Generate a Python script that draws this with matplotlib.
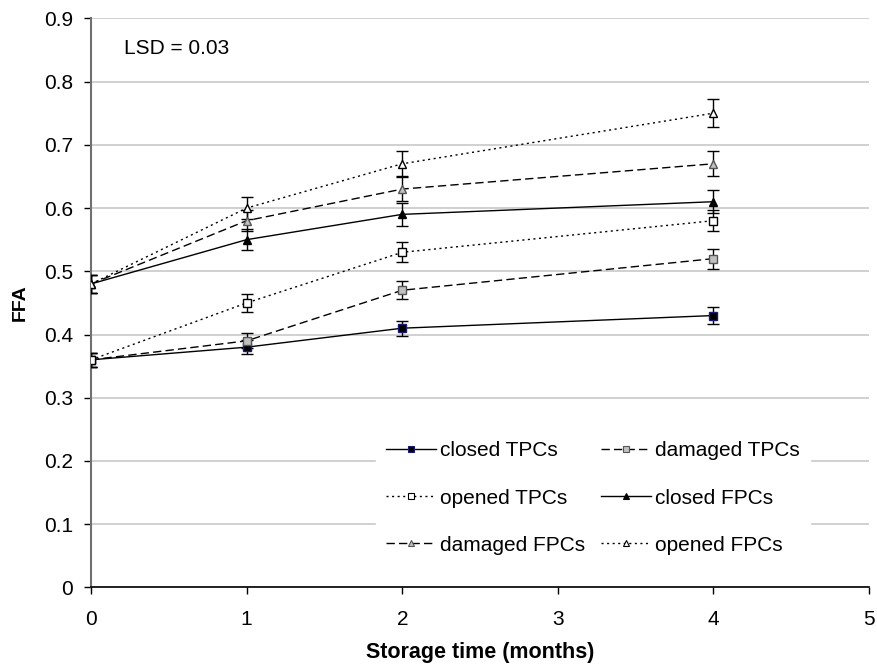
import matplotlib.pyplot as plt
from matplotlib.lines import Line2D

plt.rcParams['font.family'] = ['Liberation Sans', 'DejaVu Sans']

months = [0, 1, 2, 4]

closed_tpc = [0.36, 0.38, 0.41, 0.43]
damaged_tpc = [0.36, 0.39, 0.47, 0.52]
opened_tpc = [0.36, 0.45, 0.53, 0.58]
closed_fpc = [0.48, 0.55, 0.59, 0.61]
damaged_fpc = [0.48, 0.58, 0.63, 0.67]
opened_fpc = [0.48, 0.60, 0.67, 0.75]

# error bars
closed_tpc_err = [0.011, 0.011, 0.012, 0.013]
damaged_tpc_err = [0.011, 0.012, 0.014, 0.016]
opened_tpc_err = [0.011, 0.014, 0.016, 0.017]
closed_fpc_err = [0.014, 0.017, 0.018, 0.018]
damaged_fpc_err = [0.014, 0.017, 0.019, 0.020]
opened_fpc_err = [0.014, 0.018, 0.020, 0.022]

labels = ['closed TPCs', 'damaged TPCs', 'opened TPCs',
          'closed FPCs', 'damaged FPCs', 'opened FPCs']

series = [
    (closed_tpc, closed_tpc_err, '-', 's', 'black', '#1a1a6e'),
    (damaged_tpc, damaged_tpc_err, (0, (6, 3)), 's', '#c0c0c0', '#555555'),
    (opened_tpc, opened_tpc_err, (0, (1.5, 2.5)), 's', 'white', 'black'),
    (closed_fpc, closed_fpc_err, '-', '^', 'black', 'black'),
    (damaged_fpc, damaged_fpc_err, (0, (6, 3)), '^', '#c0c0c0', '#555555'),
    (opened_fpc, opened_fpc_err, (0, (1.5, 2.5)), '^', 'white', 'black'),
]

fig = plt.figure(figsize=(8.77, 6.66), dpi=100)
ax = fig.add_axes([0.1038, 0.1179, 0.8872, 0.8546])

handles = []
for (vals, err, ls, mk, fc, ec), lab in zip(series, labels):
    ax.errorbar(months, vals, yerr=err, fmt='none', ecolor='black',
                elinewidth=1, capsize=4, capthick=1, zorder=3)
    ax.plot(months, vals, color='black', linestyle=ls, linewidth=1,
            marker=mk, markersize=6, markerfacecolor=fc,
            markeredgecolor=ec, markeredgewidth=1, zorder=4)
    handles.append(Line2D([], [], color='black', linestyle=ls, linewidth=1,
                          marker=mk, markersize=4.5, markerfacecolor=fc,
                          markeredgecolor=ec, markeredgewidth=0.8))

ax.set_xlim(0, 5)
ax.set_ylim(0, 0.9)
ax.set_xticks([0, 1, 2, 3, 4, 5])
ax.set_yticks([0, 0.1, 0.2, 0.3, 0.4, 0.5, 0.6, 0.7, 0.8, 0.9])
ax.set_yticklabels(['0', '0.1', '0.2', '0.3', '0.4', '0.5', '0.6', '0.7', '0.8', '0.9'])
ax.tick_params(labelsize=15, length=5, width=1, colors='black')
ax.tick_params(axis='x', pad=11)
ax.tick_params(axis='y', pad=8)

ax.yaxis.grid(True, color='#c8c8c8', linewidth=1.2)
ax.set_axisbelow(True)
for side in ['top', 'right']:
    ax.spines[side].set_visible(False)
ax.spines['left'].set_color('#707070')
ax.spines['left'].set_linewidth(1.5)
ax.spines['bottom'].set_color('black')
ax.spines['bottom'].set_linewidth(1.2)

ax.set_xlabel('Storage time (months)', fontsize=15.5, fontweight='bold')
ax.set_ylabel('FFA', fontsize=14, fontweight='bold')
ax.xaxis.set_label_coords(0.5, -0.095)
ax.yaxis.set_label_coords(-0.08, 0.5)

ax.text(0.21, 0.852, 'LSD = 0.03', fontsize=15, va='center', ha='left')

order = [0, 2, 4, 1, 3, 5]
leg = ax.legend([handles[i] for i in order], [labels[i] for i in order],
                ncol=2, loc='center', bbox_to_anchor=(0.645, 0.157),
                fontsize=15, frameon=True, handlelength=2.4,
                handletextpad=0.15, columnspacing=0.8, labelspacing=1.35,
                borderpad=0.5, borderaxespad=0)
leg.get_frame().set_facecolor('white')
leg.get_frame().set_edgecolor('white')
leg.get_frame().set_alpha(1)
leg.get_frame().set_boxstyle('square', pad=0)

fig.savefig('out.png', dpi=100)
